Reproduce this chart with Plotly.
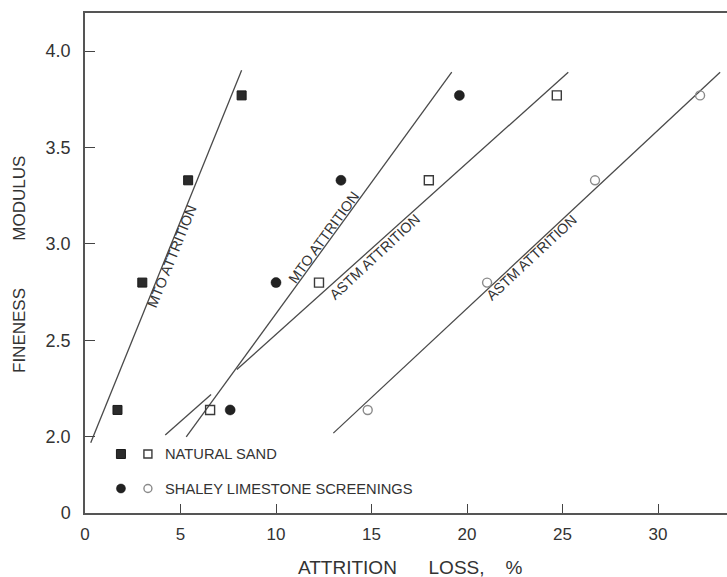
import plotly.graph_objects as go

# Fineness modulus of the four gradations tested (shared by every series)
fineness_modulus = [2.14, 2.80, 3.33, 3.77]

# Attrition loss (%) for each material / test method
sand_mto = [1.7, 3.0, 5.4, 8.2]
shaley_mto = [7.6, 10.0, 13.4, 19.6]
sand_astm = [6.55, 12.25, 18.0, 24.7]
shaley_astm = [14.8, 21.05, 26.7, 32.2]

# Fitted trend lines (end points); the ASTM sand line is drawn with a gap
mto_sand_fit_x = [0.3, 8.2]
mto_sand_fit_y = [1.97, 3.90]
mto_shaley_fit_x = [5.3, 19.2]
mto_shaley_fit_y = [2.0, 3.89]
astm_sand_fit_x = [4.2, 6.6, None, 7.95, 25.3]
astm_sand_fit_y = [2.01, 2.22, None, 2.35, 3.89]
astm_shaley_fit_x = [13.0, 33.25]
astm_shaley_fit_y = [2.02, 3.89]

# Axis ticks (the y axis is broken between 0 and 2.0)
x_ticks = [0, 5, 10, 15, 20, 25, 30]
y_ticks = [2.0, 2.5, 3.0, 3.5, 4.0]
y_tick_text = ["2.0", "2.5", "3.0", "3.5", "4.0"]

X_RANGE = [0, 33.61]
Y_RANGE = [1.606, 4.197]   # bottom of the range stands for the "0" of the broken axis

FONT = "Arial, Liberation Sans, Helvetica, sans-serif"
INK = "#333333"
LINE = "#4a4a4a"
NB = "\u00a0"

fig = go.Figure()

# trend lines
for fx, fy in [(mto_sand_fit_x, mto_sand_fit_y),
               (mto_shaley_fit_x, mto_shaley_fit_y),
               (astm_sand_fit_x, astm_sand_fit_y),
               (astm_shaley_fit_x, astm_shaley_fit_y)]:
    fig.add_trace(go.Scatter(x=fx, y=fy, mode="lines", connectgaps=False,
                             line=dict(color=LINE, width=1.3),
                             showlegend=False, hoverinfo="skip"))

filled_sq = dict(symbol="square", size=9, color="#2b2b2b",
                 line=dict(color="#1a1a1a", width=1))
open_sq = dict(symbol="square-open", size=9, color="#3a3a3a",
               line=dict(width=1.4))
filled_ci = dict(symbol="circle", size=10, color="#222222",
                 line=dict(color="#111111", width=0.5))
open_ci = dict(symbol="circle-open", size=9, color="#8a8a8a",
               line=dict(width=1.4))

fig.add_trace(go.Scatter(x=sand_mto, y=fineness_modulus, mode="markers",
                         marker=filled_sq, showlegend=False))
fig.add_trace(go.Scatter(x=shaley_mto, y=fineness_modulus, mode="markers",
                         marker=filled_ci, showlegend=False))
fig.add_trace(go.Scatter(x=sand_astm, y=fineness_modulus, mode="markers",
                         marker=open_sq, showlegend=False))
fig.add_trace(go.Scatter(x=shaley_astm, y=fineness_modulus, mode="markers",
                         marker=open_ci, showlegend=False))


# legend keys, placed in the broken part of the y axis (paper fractions -> data)
def px(f):
    return X_RANGE[0] + f * (X_RANGE[1] - X_RANGE[0])


def py(f):
    return Y_RANGE[0] + f * (Y_RANGE[1] - Y_RANGE[0])


legend_rows = [
    (0.118, dict(filled_sq, size=9), dict(open_sq, size=8), "NATURAL SAND"),
    (0.049, dict(filled_ci, size=9), dict(open_ci, size=8), "SHALEY LIMESTONE SCREENINGS"),
]
for fy, m1, m2, label in legend_rows:
    fig.add_trace(go.Scatter(x=[px(0.056)], y=[py(fy)], mode="markers",
                             marker=m1, showlegend=False, hoverinfo="skip"))
    fig.add_trace(go.Scatter(x=[px(0.098)], y=[py(fy)], mode="markers",
                             marker=m2, showlegend=False, hoverinfo="skip"))
    fig.add_annotation(x=0.121, y=fy, xref="paper", yref="paper",
                       xanchor="left", yanchor="middle", showarrow=False,
                       text=label, font=dict(family=FONT, size=14.7, color=INK))

# labels running along the trend lines
line_labels = [
    (4.55, 2.938, -68, "MTO ATTRITION"),
    (12.51, 3.036, -54, "MTO ATTRITION"),
    (15.15, 2.934, -43, "ASTM ATTRITION"),
    (23.35, 2.927, -43, "ASTM ATTRITION"),
]
for lx, ly, ang, txt in line_labels:
    fig.add_annotation(x=lx, y=ly, text=txt, textangle=ang, showarrow=False,
                       xanchor="center", yanchor="middle",
                       font=dict(family=FONT, size=14.3, color=INK))

# axis titles
fig.add_annotation(x=0, y=0.496, xref="paper", yref="paper", xshift=-66,
                   textangle=-90, showarrow=False, xanchor="center", yanchor="middle",
                   text="FINENESS" + NB * 10 + "MODULUS",
                   font=dict(family=FONT, size=17, color=INK))
fig.add_annotation(x=0.5, y=0, xref="paper", yref="paper", yshift=-54, xshift=4,
                   showarrow=False, xanchor="center", yanchor="middle",
                   text="ATTRITION" + NB * 6 + "LOSS," + NB * 4 + "%",
                   font=dict(family=FONT, size=19, color=INK))

fig.update_xaxes(range=X_RANGE, tickvals=x_ticks, ticks="inside", ticklen=9,
                 tickwidth=1.3, tickcolor="#444444", showline=True, linecolor="#555555",
                 linewidth=1.5, mirror=True, showgrid=False, zeroline=False,
                 ticklabelstandoff=5,
                 tickfont=dict(family=FONT, size=17, color=INK))
fig.update_yaxes(range=Y_RANGE, tickvals=[Y_RANGE[0]] + y_ticks,
                 ticktext=["0"] + y_tick_text, ticks="inside", ticklen=10,
                 tickwidth=1.3, tickcolor="#444444", showline=True, linecolor="#555555",
                 linewidth=1.5, mirror=False, showgrid=False, zeroline=False,
                 ticklabelstandoff=9,
                 tickfont=dict(family=FONT, size=18, color=INK))

fig.update_layout(width=727, height=577, margin=dict(l=85, r=0, t=13, b=64),
                  paper_bgcolor="white", plot_bgcolor="white", showlegend=False)

fig.write_html("out.html")
